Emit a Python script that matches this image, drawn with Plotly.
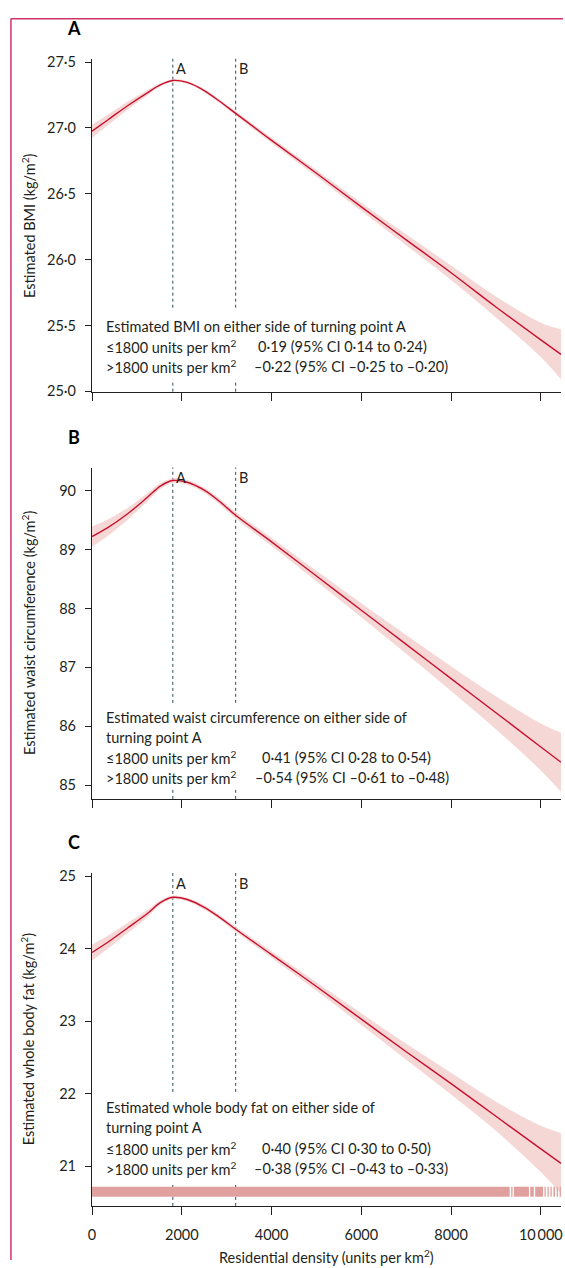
import plotly.graph_objects as go

W, H = 565, 1268

# ---------------- data ----------------
density = [0, 350, 800, 1240, 1530, 1800, 2120, 2490, 2850, 3200,
           4000, 5000, 6000, 7000, 8000, 9000, 10000, 10450]

bmi = [26.975, 27.06, 27.17, 27.268, 27.328, 27.36, 27.345, 27.285, 27.20, 27.11,
       26.905, 26.655, 26.40, 26.15, 25.90, 25.64, 25.39, 25.28]
bmi_ci = [0.05, 0.04, 0.03, 0.02, 0.012, 0.01, 0.01, 0.012, 0.014, 0.016,
          0.02, 0.025, 0.032, 0.042, 0.055, 0.08, 0.13, 0.19]

waist = [89.22, 89.37, 89.61, 89.89, 90.08, 90.17, 90.14, 90.01, 89.81, 89.58,
         89.13, 88.55, 87.97, 87.39, 86.81, 86.23, 85.65, 85.39]
waist_ci = [0.17, 0.14, 0.10, 0.07, 0.05, 0.04, 0.04, 0.045, 0.05, 0.055,
            0.07, 0.09, 0.12, 0.16, 0.21, 0.28, 0.40, 0.50]

fat = [23.95, 24.09, 24.29, 24.49, 24.64, 24.71, 24.68, 24.575, 24.43, 24.27,
       23.92, 23.48, 23.03, 22.58, 22.14, 21.69, 21.24, 21.04]
fat_ci = [0.11, 0.09, 0.07, 0.05, 0.03, 0.025, 0.025, 0.03, 0.03, 0.035,
          0.045, 0.06, 0.08, 0.11, 0.15, 0.20, 0.32, 0.42]

turning_points = [1800, 3200]
turning_labels = ["A", "B"]

rug_start = [0, 9340, 9400, 9764, 9874, 10081, 10147, 10213, 10280, 10353, 10419, 10470]
rug_end = [9306, 9370, 9735, 9845, 10051, 10110, 10176, 10243, 10316, 10382, 10448, 10486]
rug_level = 20.65

x_ticks = [0, 2000, 4000, 6000, 8000, 10000]
x_tick_text = ["0", "2000", "4000", "6000", "8000", "10\u2009000"]

bmi_ticks = [25.0, 25.5, 26.0, 26.5, 27.0, 27.5]
bmi_tick_text = ["25·0", "25·5", "26·0", "26·5", "27·0", "27·5"]
waist_ticks = [85, 86, 87, 88, 89, 90]
waist_tick_text = ["85", "86", "87", "88", "89", "90"]
fat_ticks = [21, 22, 23, 24, 25]
fat_tick_text = ["21", "22", "23", "24", "25"]

panel_letters = ["A", "B", "C"]
y_titles = ["Estimated BMI (kg/m<sup>2</sup>)",
            "Estimated waist circumference (kg/m<sup>2</sup>)",
            "Estimated whole body fat (kg/m<sup>2</sup>)"]

text_col1 = [
    ["Estimated BMI on either side of turning point A",
     "≤1800 units per km<sup>2</sup>", ">1800 units per km<sup>2</sup>"],
    ["Estimated waist circumference on either side of", "turning point A",
     "≤1800 units per km<sup>2</sup>", ">1800 units per km<sup>2</sup>"],
    ["Estimated whole body fat on either side of", "turning point A",
     "≤1800 units per km<sup>2</sup>", ">1800 units per km<sup>2</sup>"],
]
text_col2 = [
    ["0·19 (95% CI 0·14 to 0·24)", "–0·22 (95% CI –0·25 to –0·20)"],
    ["0·41 (95% CI 0·28 to 0·54)", "–0·54 (95% CI –0·61 to –0·48)"],
    ["0·40 (95% CI 0·30 to 0·50)", "–0·38 (95% CI –0·43 to –0·33)"],
]

# ---------------- styling / layout (pixels) ----------------
FONT = "Lato, 'Open Sans', sans-serif"
INK = "#231f20"
LINE_C = "#c8102e"
BAND_C = "rgba(238,190,185,0.6)"
RUG_C = "#e0a09e"
DASH_C = "#2e4a5e"
BORDER_C = "#cf3466"
TXT = 14.5

X_LEFT, X_RIGHT = 89, 563
panel_px = [(53.3, 390.0), (466.7, 801.7), (876.7, 1213.3)]
y_ranges = [[24.997, 27.525], [84.77, 90.39], [20.454, 25.045]]
series = [(bmi, bmi_ci), (waist, waist_ci), (fat, fat_ci)]
yticks = [(bmi_ticks, bmi_tick_text), (waist_ticks, waist_tick_text), (fat_ticks, fat_tick_text)]
text_top = [324, 719, 1114]
line_gap = 20.5
col2_x = [(255, 250.5), (259, 252), (259, 250.5)]
hide_box = [(308, 378), (707, 792), (1098, 1191)]


def fx(p):
    return p / W


def fy(p):
    return 1 - p / H


fig = go.Figure()
annotations = []
shapes = []

for i in range(3):
    n = i + 1
    xa = "x" if n == 1 else f"x{n}"
    ya = "y" if n == 1 else f"y{n}"
    vals, ci = series[i]
    lo = [v - c for v, c in zip(vals, ci)]
    hi = [v + c for v, c in zip(vals, ci)]
    fig.add_trace(go.Scatter(x=density, y=lo, mode="lines", line=dict(width=0, shape="spline"),
                             hoverinfo="skip", showlegend=False, xaxis=xa, yaxis=ya))
    fig.add_trace(go.Scatter(x=density, y=hi, mode="lines", line=dict(width=0, shape="spline"),
                             fill="tonexty", fillcolor=BAND_C, hoverinfo="skip",
                             showlegend=False, xaxis=xa, yaxis=ya))
    fig.add_trace(go.Scatter(x=density, y=vals, mode="lines",
                             line=dict(color=LINE_C, width=1.4, shape="spline"),
                             showlegend=False, xaxis=xa, yaxis=ya))

    top, bot = panel_px[i]
    dom = [fy(bot), fy(top)]
    tv, tt = yticks[i]
    fig.update_layout(**{
        ("xaxis" if n == 1 else f"xaxis{n}"): dict(
            domain=[fx(X_LEFT), fx(X_RIGHT)], range=[0, 10450], anchor=ya,
            showline=True, linecolor=INK, linewidth=1.3, ticks="outside", ticklen=8,
            tickwidth=1.3, tickcolor=INK, showgrid=False, zeroline=False,
            tickvals=x_ticks, ticktext=x_tick_text, showticklabels=(n == 3),
            ticklabelstandoff=8,
            tickfont=dict(family=FONT, size=TXT, color=INK)),
        ("yaxis" if n == 1 else f"yaxis{n}"): dict(
            domain=dom, range=y_ranges[i], anchor=xa,
            showline=True, linecolor=INK, linewidth=1.3, ticks="outside", ticklen=6,
            tickwidth=1.3, tickcolor=INK, showgrid=False, zeroline=False,
            tickvals=tv, ticktext=tt, ticklabelstandoff=6,
            tickfont=dict(family=FONT, size=TXT, color=INK)),
    })

    # turning-point dashed lines
    for tp, lab in zip(turning_points, turning_labels):
        shapes.append(dict(type="line", xref=xa, yref=f"{ya} domain", x0=tp, x1=tp, y0=0, y1=1,
                           line=dict(color=DASH_C, width=1, dash="3px,3px"), layer="below"))
        annotations.append(dict(xref=xa, yref=f"{ya} domain", x=tp, y=1, xanchor="left",
                                yanchor="middle", xshift=1, yshift=-10, showarrow=False, text=lab,
                                font=dict(family=FONT, size=TXT, color=INK)))
    # white box behind the text block hiding the dashed lines
    hb0, hb1 = hide_box[i]
    shapes.append(dict(type="rect", xref="paper", yref="paper", x0=fx(150), x1=fx(260),
                       y0=fy(hb1), y1=fy(hb0), fillcolor="white", line=dict(width=0),
                       layer="below"))

    # panel letter
    annotations.append(dict(xref="paper", yref="paper", x=fx(71), y=fy(top - 31), xanchor="center",
                            yanchor="middle", showarrow=False, text=f"<b>{panel_letters[i]}</b>",
                            font=dict(family=FONT, size=18, color="black")))
    # y title
    annotations.append(dict(xref="paper", yref="paper", x=fx(24), y=fy((top + bot) / 2),
                            xanchor="center", yanchor="middle", textangle=-90, showarrow=False,
                            text=y_titles[i], font=dict(family=FONT, size=TXT, color=INK)))
    # text block
    lines1 = text_col1[i]
    for k, t in enumerate(lines1):
        annotations.append(dict(xref="paper", yref="paper", x=fx(101), y=fy(text_top[i] + k * line_gap),
                                xanchor="left", yanchor="middle", showarrow=False, text=t,
                                font=dict(family=FONT, size=TXT, color=INK)))
    base = len(lines1) - 2
    for k, t in enumerate(text_col2[i]):
        annotations.append(dict(xref="paper", yref="paper", x=fx(col2_x[i][k]),
                                y=fy(text_top[i] + (base + k) * line_gap),
                                xanchor="left", yanchor="middle", showarrow=False, text=t,
                                font=dict(family=FONT, size=TXT, color=INK)))

# rug of observations in panel C
rx, ry = [], []
for s, e in zip(rug_start, rug_end):
    rx += [s, e, None]
    ry += [rug_level, rug_level, None]
fig.add_trace(go.Scatter(x=rx, y=ry, mode="lines", line=dict(color=RUG_C, width=10),
                         hoverinfo="skip", showlegend=False, xaxis="x3", yaxis="y3"))

# x-axis title
annotations.append(dict(xref="paper", yref="paper", x=fx((X_LEFT + X_RIGHT) / 2), y=fy(1264),
                        xanchor="center", yanchor="middle", showarrow=False,
                        text="Residential density (units per km<sup>2</sup>)",
                        font=dict(family=FONT, size=TXT, color=INK)))

# frame lines
shapes.append(dict(type="line", xref="paper", yref="paper", x0=fx(7), x1=1, y0=fy(13), y1=fy(13),
                   line=dict(color=BORDER_C, width=1.5), layer="above"))
shapes.append(dict(type="line", xref="paper", yref="paper", x0=fx(7), x1=fx(7), y0=0, y1=fy(13),
                   line=dict(color=BORDER_C, width=1.5), layer="above"))

fig.update_layout(width=W, height=H, margin=dict(l=0, r=0, t=0, b=0),
                  paper_bgcolor="white", plot_bgcolor="white",
                  annotations=annotations, shapes=shapes, showlegend=False,
                  font=dict(family=FONT, color=INK))

fig.write_html("out.html", config={"displayModeBar": False},
               post_script="document.body.style.margin='0';"
                           "document.body.style.padding='0';"
                           "document.documentElement.style.overflow='hidden';")
